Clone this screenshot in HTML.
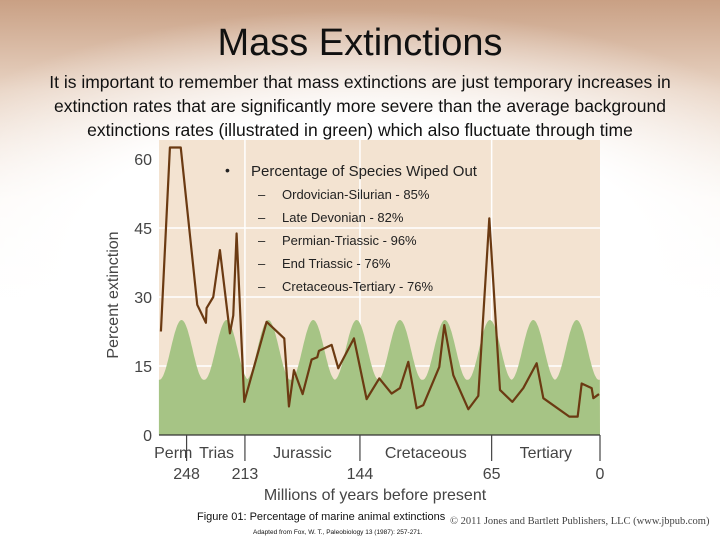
<!DOCTYPE html>
<html><head><meta charset="utf-8"><style>
body{margin:0;width:720px;height:540px;overflow:hidden;font-family:"Liberation Sans",sans-serif;
background:radial-gradient(ellipse 520px 240px at 360px 250px,#fff 55%,rgba(255,255,255,0) 100%),linear-gradient(#c9a084 0px,#e8d3c3 90px,#fbf6f2 200px,#fff 300px);position:relative}
.t{position:absolute;left:0;width:720px;text-align:center;color:#111}
</style></head><body>
<div class="t" style="top:22px;font-size:38px">Mass Extinctions</div>
<div class="t" style="top:70px;font-size:17.5px;line-height:24px">It is important to remember that mass extinctions are just temporary increases in<br>extinction rates that are significantly more severe than the average background<br>extinctions rates (illustrated in green) which also fluctuate through time</div>
<svg id="c" width="720" height="540" style="position:absolute;left:0;top:0"></svg>
<script>
const ages=[263.4,258,251.5,241.6,236.4,236,232,228,222,220,218,213.4,200,189.4,186.6,183.6,178.4,173,169.6,168.6,161,157,147.6,140,132.4,125,120,115,110,106,96.4,93.4,88,79,73,66.4,60,52.6,46,38,34,18.4,13.4,11,5,4,0.6];
const pct=[22.5,62.5,62.5,28.3,24.4,27.6,30,40.2,22.1,26,43.8,7.2,24.6,21,6.2,14.1,8.9,16.4,16.9,18.3,19.6,14.5,21,7.8,12.3,9,10.2,15.9,5.8,6.5,14.8,23.9,13,5.6,8.5,47.1,9.8,7.2,10.2,15.6,8,4,4,11.2,10.2,8,8.9];
const bgPeakAges=[251,224,199,172,146,120,93,66,40,14];
const bgLow=[12],bgHigh=[25];
const yTicks=[0,15,30,45,60];
const xTicks=[248,213,144,65,0];
const periods=["Perm","Trias","Jurassic","Cretaceous","Tertiary"];
const periodMid=[256,230,178.5,104.5,32.5];
const periodBounds=[248,213,144,65,0];
const legendItems=["Ordovician-Silurian - 85%","Late Devonian - 82%","Permian-Triassic - 96%","End Triassic - 76%","Cretaceous-Tertiary - 76%"];

const X=a=>600-a*1.667, Y=p=>435-p*4.6;
const svg=document.getElementById('c'),NS='http://www.w3.org/2000/svg';
function mk(t,at,par){const e=document.createElementNS(NS,t);for(const k in at)e.setAttribute(k,at[k]);(par||svg).appendChild(e);return e;}
let e=mk('rect',{x:159,y:140,width:441,height:295,fill:'#f3e3d1'});


yTicks.slice(1,4).forEach(v=>{let g=mk('line',{x1:159,x2:600,y1:Y(v),y2:Y(v),stroke:'#fff','stroke-width':1.5});

});
xTicks.slice(1,4).forEach(v=>{let g=mk('line',{x1:X(v),x2:X(v),y1:140,y2:435,stroke:'#fff','stroke-width':1.5});

});
// background wave
let d='M'+X(264.6)+','+Y(0);
for(let a=264.6;a>=0;a-=0.5){let m=1e9;bgPeakAges.forEach(p=>{m=Math.min(m,Math.abs(a-p))});
let ph=Math.min(m/13.3,1);let f=Math.pow(Math.cos(ph*Math.PI/2),2);
f=(Math.cos(ph*Math.PI)+1)/2;d+=' L'+X(a).toFixed(1)+','+Y(bgLow[0]+(bgHigh[0]-bgLow[0])*f).toFixed(1);}
d+=' L600,'+Y(0)+' Z';
e=mk('path',{d:d,fill:'#a6c485'});


e=mk('polyline',{points:ages.map((a,i)=>X(a)+','+Y(pct[i])).join(' '),fill:'none',stroke:'#6b3a12','stroke-width':2.2,'stroke-linejoin':'round'});


e=mk('line',{x1:159,x2:600,y1:435,y2:435,stroke:'#333','stroke-width':1.2});


yTicks.forEach(v=>{let t=mk('text',{x:152,y:Y(v)+6,'text-anchor':'end','font-size':16,fill:'#444'});t.textContent=v;

});
periodBounds.forEach(v=>{let l=mk('line',{x1:X(v),x2:X(v),y1:435,y2:461,stroke:'#444','stroke-width':1.2});

});
periods.forEach((p,i)=>{let t=mk('text',{x:X(periodMid[i]),y:458,'text-anchor':'middle','font-size':16,fill:'#444'});t.textContent=p;

});
xTicks.forEach(v=>{let t=mk('text',{x:X(v),y:479,'text-anchor':'middle','font-size':16,fill:'#444'});t.textContent=v;

});
e=mk('text',{x:375,y:500,'text-anchor':'middle','font-size':16,fill:'#444'});e.textContent='Millions of years before present';


e=mk('text',{x:118,y:295,'text-anchor':'middle','font-size':16,fill:'#444',transform:'rotate(-90 118 295)'});e.textContent='Percent extinction';


e=mk('text',{x:225,y:175,'font-size':14,fill:'#222'});e.textContent='•';


e=mk('text',{x:251,y:176,'font-size':15,fill:'#222'});e.textContent='Percentage of Species Wiped Out';


legendItems.forEach((s,i)=>{let t=mk('text',{x:258,y:199+i*23,'font-size':13,fill:'#222'});t.textContent='–';


let u=mk('text',{x:282,y:199+i*23,'font-size':13,fill:'#222'});u.textContent=s;

});
e=mk('text',{x:197,y:520,'font-size':11,fill:'#111'});e.textContent='Figure 01: Percentage of marine animal extinctions';


e=mk('text',{x:450,y:524,'font-size':10.5,fill:'#444','font-family':'Liberation Serif'});e.textContent='© 2011 Jones and Bartlett Publishers, LLC (www.jbpub.com)';


e=mk('text',{x:253,y:534,'font-size':6.5,fill:'#111'});e.textContent='Adapted from Fox, W. T., Paleobiology 13 (1987): 257-271.';


</script>
</body></html>
